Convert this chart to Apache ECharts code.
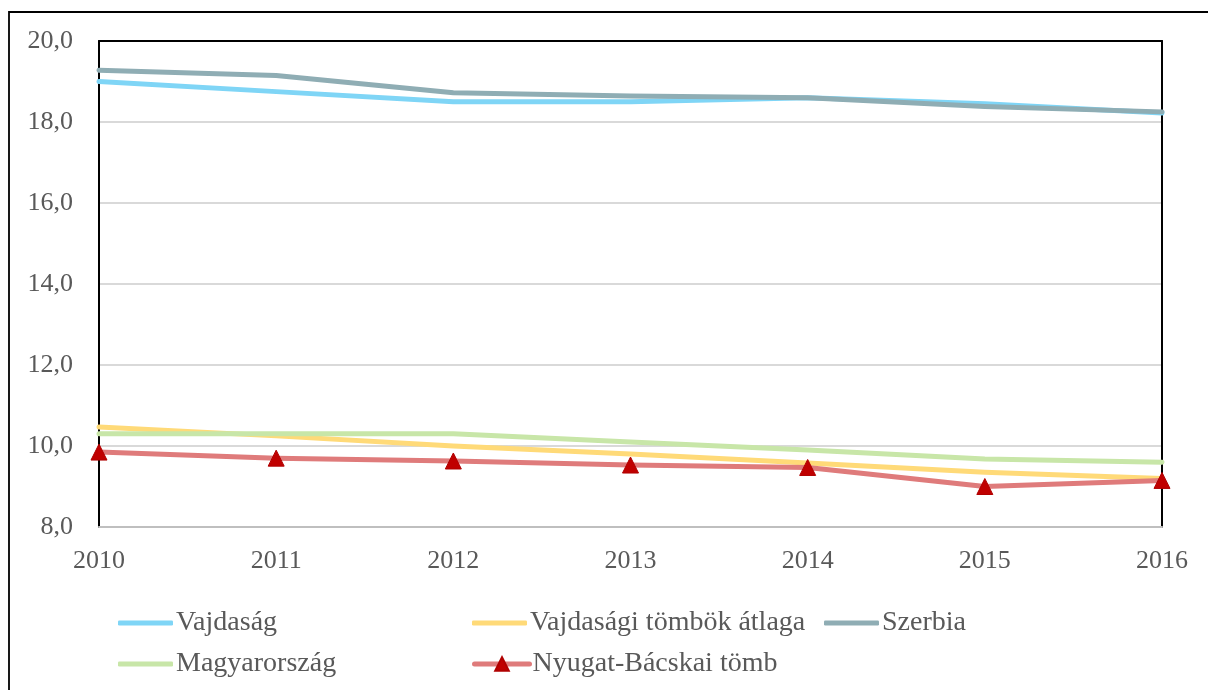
<!DOCTYPE html>
<html>
<head>
<meta charset="utf-8">
<script src="https://cdn.jsdelivr.net/npm/echarts@6/dist/echarts.min.js"></script>
<style>
    html, body { margin: 0; padding: 0; background: #fff; }
    #chart_main { width: 1208px; height: 690px; }
</style>
</head>
<body>
<div id="chart_main"></div>
<script>
var years = ['2010', '2011', '2012', '2013', '2014', '2015', '2016'];
var vajdasag = [19.0, 18.75, 18.5, 18.5, 18.6, 18.45, 18.22];
var tombok_atlag = [10.47, 10.25, 10.0, 9.8, 9.58, 9.35, 9.2];
var szerbia = [19.28, 19.15, 18.72, 18.64, 18.6, 18.38, 18.25];
var magyarorszag = [10.3, 10.3, 10.3, 10.1, 9.9, 9.68, 9.6];
var nyugat_bacska = [9.85, 9.7, 9.63, 9.53, 9.47, 9.0, 9.15];

var font = '"Liberation Serif", "Times New Roman", serif';
var textColor = '#595959';

function lineSeries(name, data, color) {
    return {
        name: name,
        type: 'line',
        data: data,
        symbol: 'none',
        lineStyle: { color: color, width: 5, cap: 'round', join: 'round' },
        itemStyle: { color: color }
    };
}

// one legend per item so they sit on a grid like the original
function legendItem(name, left, top, withSymbol) {
    return {
        data: [withSymbol ? name : { name: name, icon: 'roundRect' }],
        left: left,
        top: top,
        padding: 0,
        itemWidth: 55,
        itemHeight: withSymbol ? 17 : 5,
        itemGap: 0,
        lineStyle: { width: 5 },
        textStyle: { fontFamily: font, fontSize: 28, color: textColor, padding: [0, 0, 0, -2] }
    };
}

var chart_main = echarts.init(document.getElementById('chart_main'));
chart_main.setOption(option = {
    animation: false,
    backgroundColor: '#fff',
    graphic: [{
        type: 'rect',
        shape: { x: 9, y: 12, width: 1220, height: 700 },
        style: { fill: 'none', stroke: '#000', lineWidth: 1.8 },
        silent: true
    }],
    grid: {
        left: 99,
        top: 41,
        right: 46,
        bottom: 163
    },
    legend: [
        legendItem('Vajdaság', 118, 609),
        legendItem('Vajdasági tömbök átlaga', 472, 609),
        legendItem('Szerbia', 824, 609),
        legendItem('Magyarország', 118, 650),
        legendItem('Nyugat-Bácskai tömb', 472, 650, true)
    ],
    xAxis: [{
        type: 'category',
        data: years,
        boundaryGap: false,
        axisLine: { lineStyle: { color: '#bfbfbf', width: 2 } },
        axisTick: { show: false },
        axisLabel: { margin: 21, fontFamily: font, fontSize: 26, color: textColor }
    }, {
        type: 'category',
        data: years,
        position: 'top',
        boundaryGap: false,
        axisLine: { lineStyle: { color: '#000', width: 2 } },
        axisTick: { show: false },
        axisLabel: { show: false }
    }],
    yAxis: [{
        type: 'value',
        min: 8,
        max: 20,
        interval: 2,
        axisLine: { show: true, lineStyle: { color: '#000', width: 2 } },
        axisTick: { show: false },
        splitLine: { lineStyle: { color: '#d9d9d9', width: 2 } },
        axisLabel: {
            margin: 26,
            fontFamily: font,
            fontSize: 26,
            color: textColor,
            formatter: function (v) {
                return v.toFixed(1).replace('.', ',');
            }
        }
    }, {
        type: 'value',
        position: 'right',
        min: 8,
        max: 20,
        interval: 2,
        axisLine: { show: true, lineStyle: { color: '#000', width: 2 } },
        axisTick: { show: false },
        splitLine: { show: false },
        axisLabel: { show: false }
    }],
    series: [
        lineSeries('Vajdaság', vajdasag, '#7fd5f6'),
        lineSeries('Vajdasági tömbök átlaga', tombok_atlag, '#ffda78'),
        lineSeries('Szerbia', szerbia, '#8fadb4'),
        lineSeries('Magyarország', magyarorszag, '#c8e6a8'),
        {
            name: 'Nyugat-Bácskai tömb',
            type: 'line',
            data: nyugat_bacska,
            symbol: 'triangle',
            symbolSize: 16,
            showSymbol: true,
            lineStyle: { color: '#df7b7b', width: 5, cap: 'round', join: 'round' },
            itemStyle: { color: '#c00000', borderColor: '#b00000', borderWidth: 1 }
        }
    ]
});
</script>
</body>
</html>
